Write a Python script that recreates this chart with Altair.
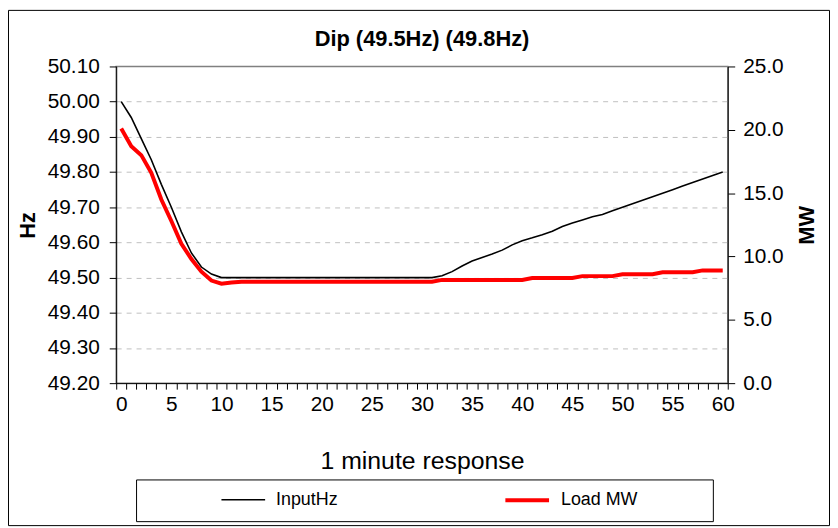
import altair as alt
import pandas as pd

# ---- data ----
minutes = list(range(61))
input_hz = [
    50.00, 49.955, 49.895, 49.835, 49.765, 49.70, 49.63, 49.57, 49.53, 49.51,
    49.50, 49.50, 49.50, 49.50, 49.50, 49.50, 49.50, 49.50, 49.50, 49.50,
    49.50, 49.50, 49.50, 49.50, 49.50, 49.50, 49.50, 49.50, 49.50, 49.50,
    49.50, 49.50, 49.505, 49.517, 49.533, 49.547, 49.557, 49.567, 49.578, 49.593,
    49.605, 49.613, 49.622, 49.632, 49.645, 49.655, 49.664, 49.673, 49.679, 49.69,
    49.70, 49.71, 49.72, 49.73, 49.74, 49.75, 49.76, 49.77, 49.78, 49.79,
    49.80,
]
load_mw = [
    20.1, 18.7, 18.0, 16.6, 14.5, 12.8, 11.0, 9.8, 8.8, 8.1,
    7.85, 7.95, 8.0, 8.0, 8.0, 8.0, 8.0, 8.0, 8.0, 8.0,
    8.0, 8.0, 8.0, 8.0, 8.0, 8.0, 8.0, 8.0, 8.0, 8.0,
    8.0, 8.0, 8.15, 8.15, 8.15, 8.15, 8.15, 8.15, 8.15, 8.15,
    8.15, 8.3, 8.3, 8.3, 8.3, 8.3, 8.45, 8.45, 8.45, 8.45,
    8.6, 8.6, 8.6, 8.6, 8.75, 8.75, 8.75, 8.75, 8.9, 8.9,
    8.9,
]
series_names = ["InputHz", "Load MW"]
series_colors = ["#000000", "#ff0000"]
hz_ticks = [49.2, 49.3, 49.4, 49.5, 49.6, 49.7, 49.8, 49.9, 50.0, 50.1]
mw_ticks = [0, 5, 10, 15, 20, 25]
x_category_edges = [m - 0.5 for m in minutes] + [60.5]

df = pd.DataFrame({
    "minute": minutes + minutes,
    "series": [series_names[0]] * len(minutes) + [series_names[1]] * len(minutes),
    "value": input_hz + load_mw,
})

W, H = 616, 319
FONT = "Liberation Sans"

legend_cfg = alt.Legend(
    title=None, orient="none", legendX=105, legendY=413, direction="horizontal",
    symbolType="stroke", symbolSize=1936, labelFontSize=18, labelFont=FONT,
    labelColor="black", columnPadding=160, labelOffset=10, padding=0,
)
color = alt.Color("series:N", scale=alt.Scale(domain=series_names, range=series_colors), legend=legend_cfg)
swidth = alt.StrokeWidth("series:N", scale=alt.Scale(domain=series_names, range=[1.6, 4]), legend=legend_cfg)

x_enc = alt.X(
    "minute:Q",
    scale=alt.Scale(domain=[-0.5, 60.5], nice=False, zero=False),
    axis=alt.Axis(
        values=x_category_edges, labelExpr="(datum.value + 0.5) % 5 == 0 ? format(datum.value + 0.5, 'd') : ''",
        labelOffset=W / 61 / 2, labelOverlap=False, labelFlush=False, labelFontSize=21, labelFont=FONT,
        labelColor="black", tickSize=6, tickColor="black", domainColor="black", labelPadding=5, grid=False,
        title="1 minute response", titleFontSize=25, titleFontWeight="normal", titleFont=FONT,
        titleColor="black", titleX=W / 2, titleY=78, titleBaseline="middle",
    ),
)

base = alt.Chart(df)

mw_layer = base.transform_filter("datum.series == 'Load MW'").mark_line().encode(
    x=x_enc,
    y=alt.Y(
        "value:Q", scale=alt.Scale(domain=[0, 25], nice=False, zero=False),
        axis=alt.Axis(
            orient="right", values=mw_ticks, format=".1f", labelFontSize=21, labelFont=FONT,
            labelColor="black", tickSize=7, tickColor="black", domainColor="black",
            labelPadding=8, grid=False, title="MW", titleFontSize=22, titleFont=FONT,
            titleFontWeight="bold", titleColor="black", titleX=79, titleY=H / 2,
            titleAngle=270, titleBaseline="middle", titleAlign="center",
        ),
    ),
    color=color, strokeWidth=swidth,
)

hz_layer = base.transform_filter("datum.series == 'InputHz'").mark_line().encode(
    x=x_enc,
    y=alt.Y(
        "value:Q", scale=alt.Scale(domain=[49.2, 50.1], nice=False, zero=False),
        axis=alt.Axis(
            orient="left", values=hz_ticks, format=".2f", labelFontSize=21, labelFont=FONT,
            labelColor="black", tickSize=7, tickColor="black", domainColor="black",
            labelPadding=10, grid=True, gridDash=[5, 5], gridColor="#c0c0c0",
            gridOpacity={"condition": {"test": "datum.value > 50.05 || datum.value < 49.25", "value": 0}, "value": 1},
            title="Hz", titleFontSize=22, titleFont=FONT, titleFontWeight="bold",
            titleColor="black", titleX=-89, titleY=H / 2, titleAngle=270,
            titleBaseline="middle", titleAlign="center",
        ),
    ),
    color=color, strokeWidth=swidth,
)

frame_df = pd.DataFrame({"k": [0]})
outer_frame = alt.Chart(frame_df).mark_rect(fill="white", fillOpacity=0, stroke="black", strokeWidth=1).encode(
    x=alt.value(-108.5), x2=alt.value(W + 102.5), y=alt.value(-56.5), y2=alt.value(H + 143.5)
)
legend_frame = alt.Chart(frame_df).mark_rect(fill="white", fillOpacity=0, stroke="black", strokeWidth=1).encode(
    x=alt.value(20.5), x2=alt.value(601.5), y=alt.value(416.5), y2=alt.value(458.5)
)

chart = alt.layer(outer_frame, legend_frame, mw_layer, hz_layer).resolve_scale(
    y="independent"
).properties(
    width=W, height=H,
    autosize=alt.AutoSizeParams(type="none"),
    padding={"left": 109, "top": 57, "right": 103, "bottom": 144},
    title=alt.TitleParams("Dip (49.5Hz) (49.8Hz)", fontSize=22, fontWeight="bold", font=FONT,
                          color="black", anchor="middle", frame="group", offset=14, dy=55),
    background="white",
).configure_view(stroke="#808080", strokeWidth=1.5)

chart.save("out.html", embed_options={"renderer": "svg", "actions": False})
